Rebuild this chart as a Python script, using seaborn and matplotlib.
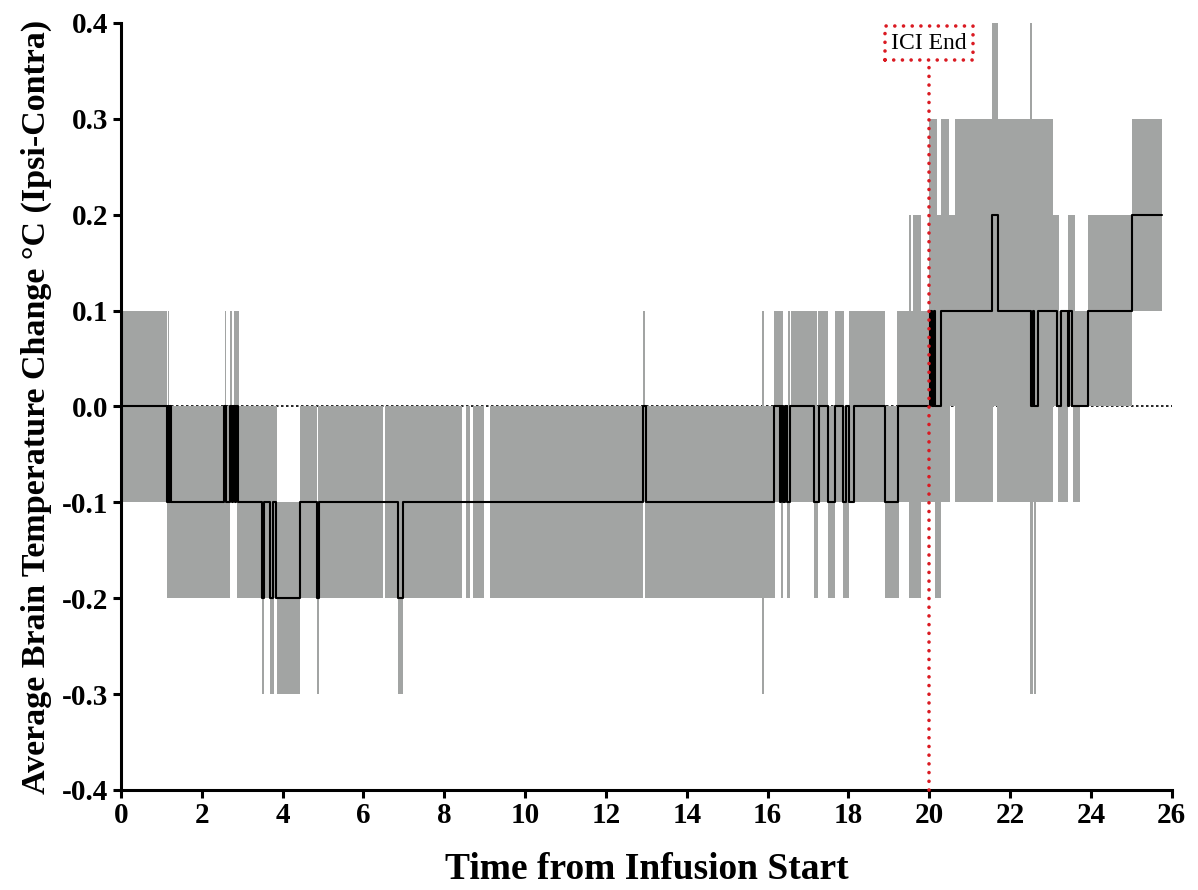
import numpy as np
import pandas as pd
import matplotlib
matplotlib.use("Agg")
import matplotlib.pyplot as plt
from matplotlib.ticker import FormatStrFormatter
import seaborn as sns

# Mean change (step function: value holds from each time until the next)
mean_t = [0, 1.13, 1.16, 1.19, 1.21, 1.23, 2.56, 2.61, 2.70, 2.74, 2.77, 2.82, 2.85, 2.90,
          3.48, 3.54, 3.69, 3.75, 3.83, 4.44, 4.85, 4.90, 6.86, 6.99, 12.91, 12.98,
          16.16, 16.30, 16.34, 16.38, 16.43, 16.47, 16.56, 17.15, 17.27, 17.49, 17.67,
          17.86, 17.94, 18.02, 18.14, 18.90, 19.23, 20.02, 20.08, 20.11, 20.14, 20.30,
          21.56, 21.70, 22.53, 22.57, 22.60, 22.70, 23.17, 23.27, 23.44, 23.47, 23.53,
          23.93, 25.03, 25.75]
mean_v = [0, -0.1, 0, -0.1, 0, -0.1, 0, -0.1, 0, -0.1, 0, -0.1, 0, -0.1,
          -0.2, -0.1, -0.2, -0.1, -0.2, -0.1, -0.2, -0.1, -0.2, -0.1, 0, -0.1,
          0, -0.1, 0, -0.1, 0, -0.1, 0, -0.1, 0, -0.1, 0,
          -0.1, 0, -0.1, 0, -0.1, 0, 0.1, 0, 0.1, 0, 0.1,
          0.2, 0.1, 0, 0.1, 0, 0.1, 0, 0.1, 0, 0.1, 0,
          0.1, 0.2, 0.2]

# Upper edge of the range band
upper_t = [0, 1.13, 1.17, 1.19, 2.57, 2.60, 2.70, 2.74, 2.80, 2.93, 3.87, 4.44, 4.85, 4.88,
           6.49, 6.53, 8.43, 8.53, 8.63, 8.70, 8.98, 9.13, 12.93, 12.97, 15.87, 15.90,
           16.16, 16.38, 16.50, 16.55, 16.58, 17.22, 17.25, 17.49, 17.66, 17.89, 18.01,
           18.90, 19.20, 19.50, 19.56, 19.59, 19.80, 20.00, 20.20, 20.30, 20.50, 20.64,
           21.56, 21.70, 22.50, 22.55, 23.07, 23.22, 23.44, 23.60, 23.93, 25.03, 25.75]
upper_v = [0.1, 0, 0.1, 0, 0.1, 0, 0.1, 0, 0.1, 0, -0.1, 0, -0.1, 0,
           -0.1, 0, -0.1, 0, -0.1, 0, -0.1, 0, 0.1, 0, 0.1, 0,
           0.1, 0, 0.1, 0, 0.1, 0, 0.1, 0, 0.1, 0, 0.1,
           0, 0.1, 0.2, 0.1, 0.2, 0.1, 0.3, 0.2, 0.3, 0.2, 0.3,
           0.4, 0.3, 0.4, 0.3, 0.2, 0.1, 0.2, 0.1, 0.2, 0.3, 0.3]

# Lower edge of the range band
lower_t = [0, 1.13, 2.70, 2.76, 2.78, 2.88, 3.50, 3.54, 3.69, 3.78, 3.87, 4.44, 4.86, 4.90,
           6.49, 6.53, 6.86, 6.99, 8.43, 8.53, 8.63, 8.70, 8.98, 9.13, 12.93, 12.97,
           15.87, 15.90, 16.19, 16.33, 16.38, 16.48, 16.55, 17.15, 17.25, 17.49, 17.66,
           17.86, 18.01, 18.90, 19.25, 19.50, 19.80, 20.15, 20.28, 20.51, 20.64, 21.58,
           21.68, 22.50, 22.56, 22.60, 22.65, 23.07, 23.19, 23.44, 23.55, 23.73, 25.03, 25.75]
lower_v = [-0.1, -0.2, -0.1, -0.2, -0.1, -0.2, -0.3, -0.2, -0.3, -0.2, -0.3, -0.2, -0.3, -0.2,
           -0.1, -0.2, -0.3, -0.2, -0.1, -0.2, -0.1, -0.2, -0.1, -0.2, -0.1, -0.2,
           -0.3, -0.2, -0.1, -0.2, -0.1, -0.2, -0.1, -0.2, -0.1, -0.2, -0.1,
           -0.2, -0.1, -0.2, -0.1, -0.2, -0.1, -0.2, -0.1, 0, -0.1, 0,
           -0.1, -0.3, -0.1, -0.3, -0.1, 0, -0.1, 0, -0.1, 0, 0.1, 0.1]

x_ticks = list(range(0, 27, 2))
y_ticks = [-0.4, -0.3, -0.2, -0.1, 0.0, 0.1, 0.2, 0.3, 0.4]
ici_end = 20

sns.set_style("ticks")
plt.rcParams["font.family"] = ["Liberation Serif", "DejaVu Serif"]
plt.rcParams["axes.unicode_minus"] = False
for key in ["text.color", "axes.labelcolor", "xtick.color", "ytick.color", "axes.edgecolor"]:
    plt.rcParams[key] = "black"

red = "#DA1A22"
band_color = "#A2A4A3"

fig = plt.figure(figsize=(11.98, 8.90), dpi=100)
ax = fig.add_axes([0.101, 0.1124, 0.877, 0.8618])

# band: evaluate both step edges on a common time grid
grid = np.union1d(upper_t, lower_t)
hi = np.array(upper_v)[np.searchsorted(upper_t, grid, side="right") - 1]
lo = np.array(lower_v)[np.searchsorted(lower_t, grid, side="right") - 1]
band = pd.DataFrame({"time": grid, "lower": lo, "upper": hi})

ax.axhline(0, color="black", lw=1.2, ls=(0, (1.5, 1.5)), zorder=0.5)
ax.fill_between(band["time"], band["lower"], band["upper"], step="post",
                color=band_color, lw=0, zorder=1)

mean_df = pd.DataFrame({"time": mean_t, "change": mean_v})
sns.lineplot(data=mean_df, x="time", y="change", drawstyle="steps-post",
             color="black", lw=1.5, ax=ax, zorder=3)

# ICI end marker
ax.plot([ici_end, ici_end], [-0.4, 0.359], color=red, lw=2.6,
        ls=(0, (0.01, 2.4)), dash_capstyle="round", zorder=4, clip_on=False)
ax.text(ici_end, 0.379, "ICI End", ha="center", va="center", fontsize=17,
        color="black", zorder=5,
        bbox=dict(boxstyle="square,pad=0.26", fc="white", ec=red, lw=2.6,
                  ls=(0, (0.01, 2.4)), capstyle="round"))

ax.set_xlim(0, 26)
ax.set_ylim(-0.4, 0.4)
ax.set_xticks(x_ticks)
ax.set_yticks(y_ticks)
ax.yaxis.set_major_formatter(FormatStrFormatter("%.1f"))
ax.tick_params(axis="both", width=2.2, length=6, labelsize=21, pad=3)
for lab in ax.get_xticklabels() + ax.get_yticklabels():
    lab.set_fontweight("bold")

sns.despine(ax=ax)
for side in ["left", "bottom"]:
    ax.spines[side].set_linewidth(2.2)

ax.set_xlabel("Time from Infusion Start", fontsize=27, fontweight="bold", labelpad=16)
ax.set_ylabel("Average Brain Temperature Change °C (Ipsi-Contra)", fontsize=24.5,
              fontweight="bold", labelpad=7)

fig.savefig("out.png", dpi=100)
